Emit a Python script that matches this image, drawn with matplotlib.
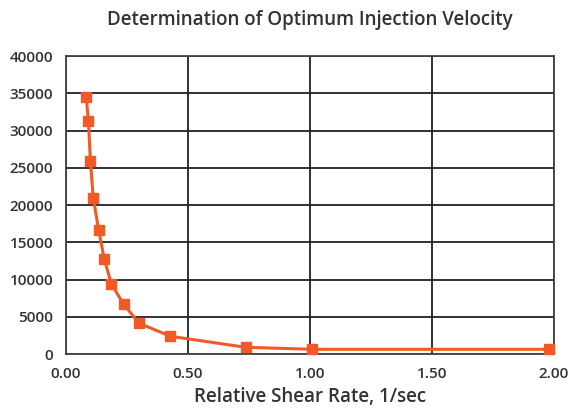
import matplotlib.pyplot as plt

shear_rate = [0.083, 0.092, 0.100, 0.112, 0.134, 0.157, 0.186, 0.236,
              0.300, 0.428, 0.736, 1.010, 1.980]
viscosity = [34460, 31240, 25870, 20900, 16600, 12710, 9400, 6670,
             4120, 2380, 900, 630, 630]
x_ticks = [0.0, 0.5, 1.0, 1.5, 2.0]
y_ticks = [0, 5000, 10000, 15000, 20000, 25000, 30000, 35000, 40000]

plt.rcParams['font.family'] = ['Open Sans', 'DejaVu Sans']

fig = plt.figure(figsize=(5.69, 4.11), dpi=100)
ax = fig.add_axes([66 / 569, 1 - 354 / 411, 488 / 569, 298 / 411])

ax.plot(shear_rate, viscosity, color='#f15a24', linewidth=2.2,
        marker='s', markersize=6.5, zorder=3, clip_on=False)

ax.set_xlim(0, 2.0)
ax.set_ylim(0, 40000)
ax.set_xticks(x_ticks)
ax.set_xticklabels([f'{t:.2f}' for t in x_ticks])
ax.set_yticks(y_ticks)
ax.set_yticklabels([str(t) for t in y_ticks])
ax.tick_params(length=0, labelsize=11, colors='#333333', pad=9)
for lbl in ax.get_xticklabels() + ax.get_yticklabels():
    lbl.set_fontweight('semibold')

ax.grid(True, color='#222222', linewidth=1.3)
ax.set_axisbelow(True)
for s in ax.spines.values():
    s.set_color('#444444')
    s.set_linewidth(1.3)

ax.set_title('Determination of Optimum Injection Velocity', fontsize=13.5,
             fontweight='semibold', color='#333333', pad=22)
ax.set_xlabel('Relative Shear Rate, 1/sec', fontsize=13.5,
              fontweight='semibold', color='#333333', labelpad=5)

fig.savefig('out.png', dpi=100)
